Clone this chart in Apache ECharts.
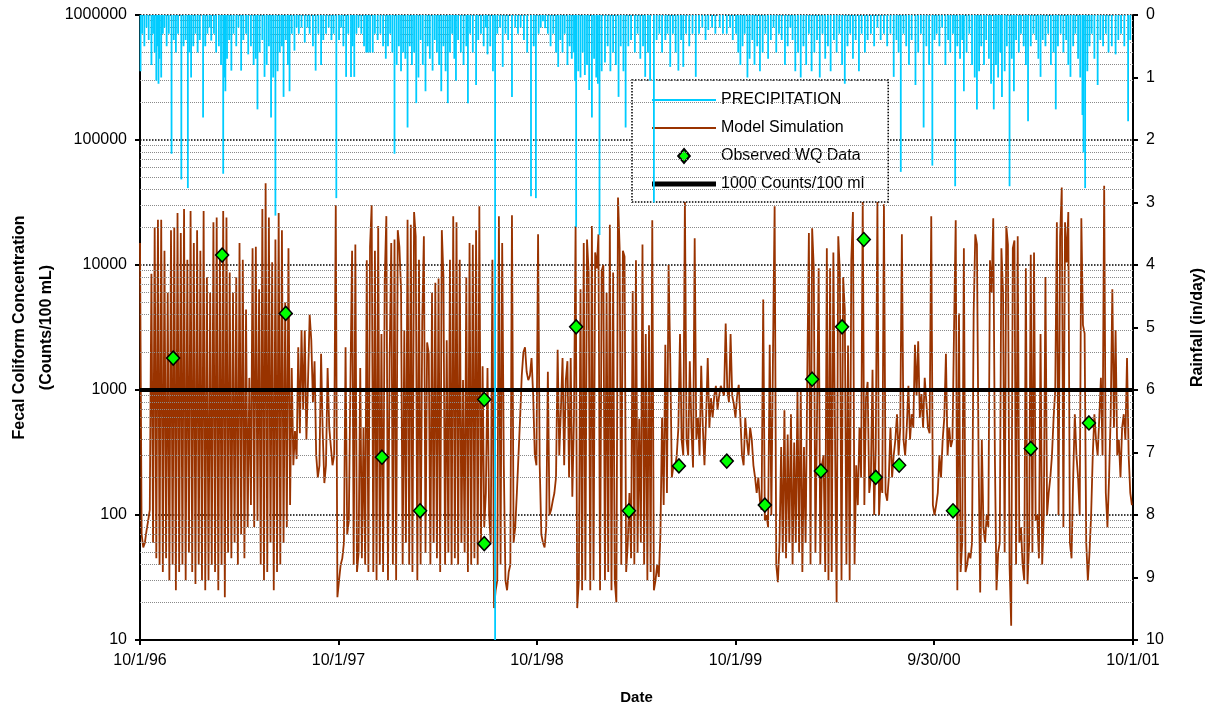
<!DOCTYPE html>
<html><head><meta charset="utf-8">
<script src="https://cdn.jsdelivr.net/npm/echarts@6/dist/echarts.min.js"></script>
<style>html,body{margin:0;padding:0;background:#fff}#c{width:1218px;height:709px}</style>
</head><body><div id="c"></div>
<script>
// x axis: days since 10/1/96
const xTickDays = [0, 365, 730, 1095, 1460, 1826];
const xTickLabels = ['10/1/96', '10/1/97', '10/1/98', '10/1/99', '9/30/00', '10/1/01'];
const modelStepDays = 3;

// Model simulation (counts/100 mL), one value every 3 days, by water year
const model1997 = [15000,70,55,60,75,90,110,8500,60,20000,
 45,23000,40,23000,35,13000,45,6000,30,19000,
 40,20000,25,26000,35,18000,40,28000,30,11000,
 50,27000,35,15000,28,19000,40,13000,30,27000,
 25,8000,30,6000,40,22000,35,24000,25,13000,
 40,27000,22,24000,50,8700,45,6000,60,8000,
 40,15000,70,11000,45,4400,80,1250,120,13600,
 80,14000,90,6400,40,28000,30,45000,35,24000,
 60,10500,25,16000,35,26000,40,19000,60,5000,
 80,13600,120,1500,250,470,280,2200,450,3000,
 700,3000,400,1200,4000,2500,800,1700,300,200,
 250,1950,450,180,250,1500,500,350,250,300,
 30000,22];
const model1998 = [30,40,45,60,2200,70,90,1200,13000,40,
 14600,35,50,1500,45,500,40,10900,35,14000,
 30000,35,13000,30,20500,40,2800,35,7500,24600,
 30,1700,15000,40,16000,30,19000,14000,6400,40,
 3000,60,23000,40,21000,35,26500,17000,30,11000,
 40,3500,17000,50,2400,1950,40,6000,60,7200,
 45,7800,35,19000,8000,40,2500,50,11000,40,
 24600,45,22000,40,11000,60,1200,50,8000,35,
 15000,40,14500,45,19000,40,29500,60,1550,80,
 150,1500,100,60,11000,18,25,30,24600,40,
 15000,250,30,25,35,40,25000,60,80,150,
 300,600,1300,2000,2200,1400,1200,1300,1800,900,
 300,250];
const model1999 = [17600,250,70,60,55,80,1400,100,110,130,
 150,200,2100,300,700,1800,250,1200,1700,200,
 1800,140,590,20500,18,30,6400,25,15000,30,
 16000,8700,25,20500,30,12600,9400,17600,25,9000,
 10000,30,6000,35,21000,25,8700,30,20,34600,
 13600,40,13000,11700,35,60,150,45,6200,40,
 10900,50,590,60,14600,40,2800,30,3300,35,
 22800,25,30,40,32,70,600,120,2300,150,
 10000,1800,200,250,240,300,500,2800,400,300,
 33000,400,300,1700,500,240,16400,400,600,300,
 1560,500,250,600,1800,500,860,600,900,1080,
 700,900,1080,1100,900,3400,1000,800,2800,900,
 770,600];
const model2000 = [900,1100,600,300,250,600,400,300,500,400,
 250,200,150,200,130,110,5300,90,100,80,
 2300,100,1950,29500,40,29,60,350,50,690,
 45,440,60,640,40,380,60,1000,50,1000,
 35,350,60,1250,18000,40,19700,9400,50,640,
 9400,40,250,300,35,13600,30,9400,35,12600,
 450,20,17000,8700,30,8000,4400,40,2270,30,
 10900,26500,40,250,120,500,200,33000,120,860,
 1160,150,200,1450,100,350,33000,100,200,150,
 30600,150,130,200,500,200,300,400,640,300,
 500,17600,400,300,500,1080,400,640,500,2300,
 900,2450,600,930,500,1250,800,500,450,24600,
 120,100];
const model2001 = [120,150,300,200,400,600,1950,300,500,350,
 400,3200,22800,25,4100,35,60,13600,35,40,
 50,45,60,4100,17600,14600,300,24,400,80,
 60,100,80,10900,6000,23700,300,25,50,60,
 13600,6000,50,20500,14600,40,13,13600,15700,40,
 17000,60,80,40,30,9400,28,60,12100,50,
 12600,90,100,45,2800,40,100,8000,100,150,
 200,300,600,1000,22000,100,17000,41700,80,22000,
 10500,26500,60,45,200,640,300,200,100,23700,
 3300,2840,60,30,50,100,300,640,400,300,
 600,1250,300,43000,150,80,200,640,6400,500,
 3000,300,400,200,500,640,400,1800,300,150,
 120];

// Observed water-quality samples
const obsDays = [61,151,268,445,515,633,633,802,899,991,1079,1149,1236,1252,1291,1331,1353,1396,1495,1638,1745];
const obsValues = [1800,12000,4100,290,108,840,59,3200,108,247,270,120,1220,225,3200,16000,200,250,108,340,545];

// Standard
const standardValue = 1000;

// Precipitation [day, in/day]
const precip1997 = [[1,0.9],[4,0.3],[8,0.5],[12,0.2],[16,0.4],[21,0.8],[24,0.3],[27,0.6],[30,1.05],[32,0.5],[34,1.1],[36,0.7],[39,1.0],[42,0.3],[45,0.2],[49,0.5],[53,0.3],[58,2.22],[62,0.4],[66,0.6],[70,0.3],[76,2.63],[80,0.5],[84,0.4],[88,2.77],[91,0.6],[94,1.0],[98,0.5],[102,0.3],[106,0.6],[110,0.4],[116,1.64],[120,0.5],[124,0.3],[128,0.2],[131,0.41],[136,0.3],[140,0.6],[145,0.5],[149,0.8],[153,2.54],[155,1.0],[157,1.22],[160,0.7],[164,0.4],[168,0.89],[172,0.3],[177,0.5],[181,0.2],[186,0.89],[190,0.4],[195,0.3],[199,0.63],[204,0.5],[209,0.8],[213,0.7],[216,1.51],[220,0.6],[225,0.4],[229,0.99],[233,0.8],[237,0.5],[241,1.64],[245,1.0],[249,3.21],[253,0.9],[257,0.6],[261,0.5],[264,1.31],[268,0.4],[272,0.8],[275,1.22],[279,0.3],[284,0.57],[288,0.2],[292,0.3],[297,0.2],[303,0.44],[308,0.2],[312,0.3],[318,0.5],[323,0.89],[328,0.3],[333,0.8],[337,0.4],[342,0.3],[347,0.2],[352,0.4],[356,0.3],[361,2.93]];
const precip1998 = [[366,0.4],[370,0.2],[374,0.5],[379,0.99],[383,0.3],[388,0.99],[391,0.5],[394,0.99],[398,0.3],[402,0.2],[407,0.3],[412,0.5],[416,0.6],[419,0.6],[423,0.6],[428,0.6],[432,0.3],[437,0.4],[442,0.3],[447,0.5],[452,0.7],[456,0.5],[460,0.3],[464,0.6],[468,2.22],[472,0.8],[476,0.5],[480,0.9],[484,0.6],[488,0.7],[492,1.8],[496,0.5],[500,0.8],[504,0.6],[508,1.41],[512,1.0],[516,0.4],[520,0.8],[525,1.22],[529,0.5],[533,0.7],[538,0.89],[542,0.4],[546,0.6],[550,0.8],[554,1.22],[558,0.5],[562,0.9],[566,1.41],[570,0.6],[574,0.3],[578,0.7],[581,1.05],[585,0.4],[590,0.6],[595,0.8],[600,0.5],[603,1.41],[607,0.3],[612,0.6],[618,1.12],[622,0.4],[627,0.3],[632,0.5],[636,0.2],[639,0.63],[644,0.5],[649,0.9],[653,10],[657,0.3],[662,0.2],[667,0.83],[672,0.3],[677,0.4],[684,1.31],[690,0.2],[695,0.3],[700,0.2],[706,0.4],[712,0.6],[719,2.9],[724,0.5],[728,2.93]];
const precip1999 = [[733,0.3],[737,0.2],[741,0.1],[745,0.21],[750,0.3],[755,0.5],[760,0.3],[765,0.6],[769,0.83],[773,0.4],[777,0.6],[781,0.3],[786,0.8],[790,0.5],[794,0.7],[798,0.6],[800,1.05],[802,3.39],[806,0.9],[810,1.0],[814,0.6],[818,0.96],[822,0.8],[826,1.2],[831,1.64],[835,0.7],[839,1.0],[842,1.1],[845,3.52],[849,0.9],[855,0.76],[860,0.5],[865,0.9],[870,0.6],[875,0.8],[880,1.31],[884,0.5],[889,0.9],[893,1.8],[898,0.5],[903,0.4],[910,0.6],[915,0.3],[920,0.7],[925,0.5],[929,0.99],[934,0.6],[938,1.05],[945,3.0],[950,0.4],[955,0.3],[960,0.6],[966,0.4],[970,0.3],[975,0.83],[980,0.3],[985,0.6],[990,0.89],[995,0.4],[999,0.83],[1004,0.3],[1010,0.5],[1016,0.3],[1022,0.99],[1028,0.3],[1034,0.2],[1040,0.4],[1045,0.24],[1052,0.2],[1058,0.3],[1066,0.2],[1072,0.3],[1079,0.3],[1085,0.2],[1090,0.4]];
const precip2000 = [[1096,0.3],[1100,0.6],[1104,0.8],[1108,0.5],[1112,0.3],[1117,1.0],[1121,0.7],[1126,0.4],[1130,0.8],[1135,0.5],[1140,0.9],[1145,0.6],[1150,0.3],[1155,0.7],[1160,0.4],[1165,0.2],[1170,0.6],[1175,0.3],[1180,0.4],[1186,0.8],[1191,0.5],[1196,0.2],[1200,0.4],[1205,0.9],[1210,0.6],[1215,1.0],[1220,0.5],[1225,0.8],[1230,0.3],[1235,0.9],[1240,0.6],[1245,0.4],[1250,1.0],[1255,0.3],[1260,0.7],[1265,0.5],[1270,0.9],[1276,0.4],[1281,0.6],[1286,0.3],[1291,0.8],[1296,1.1],[1301,0.5],[1306,0.3],[1311,0.7],[1316,0.4],[1322,0.9],[1327,0.3],[1333,0.6],[1338,0.4],[1344,0.3],[1350,0.5],[1356,0.2],[1362,0.4],[1368,0.3],[1374,0.5],[1380,0.3],[1386,0.99],[1391,0.4],[1395,0.6],[1399,2.51],[1404,0.3],[1409,0.5],[1414,0.8],[1419,0.4],[1426,1.12],[1431,0.6],[1436,0.3],[1441,1.8],[1446,0.5],[1451,0.8],[1457,2.41],[1461,0.4]];
const precip2001 = [[1465,0.3],[1470,0.5],[1475,0.2],[1481,0.8],[1486,0.4],[1490,0.6],[1495,0.3],[1499,2.74],[1503,0.5],[1508,0.7],[1512,0.4],[1515,1.22],[1520,0.6],[1525,0.3],[1530,0.8],[1535,1.0],[1539,1.51],[1543,0.9],[1547,0.5],[1552,0.8],[1556,0.4],[1561,0.7],[1565,1.1],[1570,1.51],[1574,0.8],[1578,1.0],[1582,0.6],[1585,1.31],[1590,0.9],[1594,0.5],[1599,2.74],[1603,0.7],[1607,1.22],[1611,0.4],[1616,0.6],[1620,0.3],[1625,0.5],[1629,0.8],[1633,1.7],[1638,0.5],[1643,0.3],[1648,0.4],[1652,0.7],[1656,0.99],[1660,0.4],[1665,0.5],[1670,0.3],[1675,0.8],[1680,0.6],[1684,1.51],[1688,0.5],[1693,0.3],[1698,0.6],[1703,0.4],[1707,0.8],[1711,0.99],[1716,0.5],[1720,0.3],[1725,0.7],[1729,1.0],[1733,1.6],[1735,2.2],[1738,2.77],[1742,0.9],[1746,0.5],[1750,0.3],[1755,0.7],[1761,1.12],[1766,0.4],[1771,0.5],[1776,0.3],[1781,0.6],[1787,0.5],[1794,0.63],[1799,0.4],[1804,0.3],[1810,0.5],[1817,1.7],[1821,0.4]];

// ---- build ----
const modelValues = [].concat(model1997, model1998, model1999, model2000, model2001);
const modelData = modelValues.map((v, i) => [i * modelStepDays, v]);
const obsData = obsDays.map((d, i) => [d, obsValues[i]]);
const precipData = [].concat(precip1997, precip1998, precip1999, precip2000, precip2001);
const xMin = xTickDays[0], xMax = xTickDays[xTickDays.length - 1];

const minorGrid = [];
for (let d = 10; d < 1000000; d *= 10) for (let m = 2; m <= 9; m++) minorGrid.push({ yAxis: d * m });

const FONT = 'Liberation Sans, Arial, sans-serif';
const LINE_ICON = 'path://M0,0L64,0L64,2L0,2Z';
const chart = echarts.init(document.getElementById('c'), null, { renderer: 'canvas' });
chart.setOption({
  animation: false,
  backgroundColor: '#fff',
  textStyle: { fontFamily: FONT, color: '#000' },
  grid: { left: 140, right: 85, top: 15, bottom: 69, containLabel: false, outerBoundsMode: 'none' },
  legend: {
    orient: 'vertical', left: 632, top: 80,
    padding: [12, 24, 10, 20], itemGap: 12, itemWidth: 64, itemHeight: 14,
    backgroundColor: '#fff', borderColor: '#000', borderWidth: 1.5, borderType: 'dotted',
    textStyle: { fontFamily: FONT, fontSize: 16, color: '#000' },
    data: [
      { name: 'PRECIPITATION', icon: LINE_ICON, itemStyle: { borderWidth: 0 } },
      { name: 'Model Simulation', icon: LINE_ICON, itemStyle: { borderWidth: 0 } },
      { name: 'Observed WQ Data', icon: 'path://M5,0L10,6L5,12L0,6Z' },
      { name: '1000 Counts/100 ml', icon: 'path://M0,0L64,0L64,5L0,5Z', itemStyle: { borderWidth: 0 } }
    ]
  },
  xAxis: {
    type: 'value', min: xMin, max: xMax,
    name: 'Date', nameLocation: 'middle', nameGap: 50, nameMoveOverlap: false,
    nameTextStyle: { fontFamily: FONT, fontWeight: 'bold', fontSize: 15, color: '#000' },
    axisLine: { show: true, onZero: false, lineStyle: { color: '#000', width: 2 } },
    axisTick: { show: true, inside: false, length: 5, customValues: xTickDays, lineStyle: { color: '#000', width: 2 } },
    axisLabel: { customValues: xTickDays, margin: 13, fontSize: 16, color: '#000', fontFamily: FONT,
      formatter: v => xTickLabels[xTickDays.indexOf(v)] || '' },
    splitLine: { show: false }
  },
  yAxis: [
    {
      type: 'log', logBase: 10, min: 10, max: 1000000,
      name: 'Fecal Coliform Concentration\n(Counts/100 mL)', nameLocation: 'middle', nameRotate: 90,
      nameGap: 80, nameMoveOverlap: false,
      nameTextStyle: { fontFamily: FONT, fontWeight: 'bold', fontSize: 16, lineHeight: 27, color: '#000' },
      axisLine: { show: true, lineStyle: { color: '#000', width: 2 } },
      axisTick: { show: true, inside: false, length: 5, lineStyle: { color: '#000', width: 2 } },
      axisLabel: { margin: 13, fontSize: 16, color: '#000', fontFamily: FONT, formatter: v => String(Math.round(v)) },
      splitLine: { show: true, lineStyle: { color: '#000', width: 1.5, type: 'dotted' } }
    },
    {
      type: 'value', inverse: true, min: 0, max: 10, interval: 1, position: 'right',
      name: 'Rainfall (in/day)', nameLocation: 'middle', nameRotate: 90, nameGap: 57, nameMoveOverlap: false,
      nameTextStyle: { fontFamily: FONT, fontWeight: 'bold', fontSize: 16, color: '#000' },
      axisLine: { show: true, lineStyle: { color: '#000', width: 2 } },
      axisTick: { show: true, inside: false, length: 5, lineStyle: { color: '#000', width: 2 } },
      axisLabel: { margin: 13, fontSize: 16, color: '#000', fontFamily: FONT },
      splitLine: { show: false }
    }
  ],
  series: [
    {
      name: 'minor-grid', type: 'line', yAxisIndex: 0, data: [[xMin, 1000]], symbol: 'none',
      lineStyle: { opacity: 0 }, silent: true, z: 1,
      markLine: { silent: true, symbol: ['none', 'none'], label: { show: false },
        lineStyle: { color: '#8a8a8a', width: 1, type: 'dotted' }, data: minorGrid }
    },
    {
      name: 'Model Simulation', type: 'line', yAxisIndex: 0, data: modelData, symbol: 'none',
      lineStyle: { color: '#993300', width: 1.8 }, itemStyle: { color: '#993300' }, z: 3
    },
    {
      name: '1000 Counts/100 ml', type: 'line', yAxisIndex: 0,
      data: [[xMin, standardValue], [xMax, standardValue]], symbol: 'none',
      lineStyle: { color: '#000', width: 4 }, itemStyle: { color: '#000' }, z: 4
    },
    {
      name: 'PRECIPITATION', type: 'bar', yAxisIndex: 1, data: precipData, barWidth: 1.8,
      itemStyle: { color: '#00CCFF' }, z: 5
    },
    {
      name: 'Observed WQ Data', type: 'scatter', yAxisIndex: 0, data: obsData,
      symbol: 'diamond', symbolSize: [13, 14],
      itemStyle: { color: '#00FF00', borderColor: '#000', borderWidth: 1.5, opacity: 1 }, z: 6
    }
  ]
});
</script>
</body></html>
